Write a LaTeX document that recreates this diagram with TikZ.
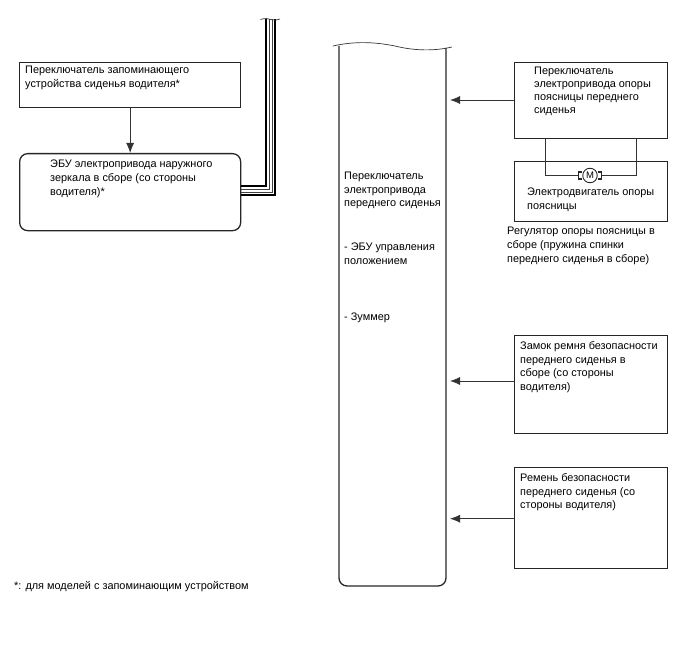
\documentclass[tikz,border=0pt]{standalone}
\usepackage{fontspec}
\setmainfont{Liberation Sans}
\usetikzlibrary{arrows.meta,calc}
\tikzset{
  boxnode/.style={draw=black!85, line width=1.3pt, minimum width=#1, inner sep=0pt, anchor=north west},
  lbl/.style={font=\fontsize{10.9}{13.9}\selectfont, anchor=north west, inner sep=0pt, align=left},
  link/.style={draw=black!80, line width=0.8pt},
  sig/.style={link, -{Latex[length=10pt,width=8pt]}},
  thickwire/.style={line width=2pt, black},
  thinwire/.style={line width=0.7pt, black!75},
}
\begin{document}
\begin{tikzpicture}[x=1pt, y=-1pt]
  \useasboundingbox (0,0) rectangle (688,658);

  % left column
  \node[boxnode=221pt, minimum height=45pt] (memsw) at (19,62) {};
  \node[boxnode=221pt, minimum height=77pt, rounded corners=8pt] (mirror) at (19,153) {};
  \node[lbl] (memswt) at (25,66)
    {Переключатель запоминающего\\устройства сиденья водителя*};
  \node[lbl] (mirrort) at (50,159.5)
    {ЭБУ электропривода наружного\\зеркала в сборе (со стороны\\водителя)*};
  \draw[sig] (memsw) -- (mirror);

  % wiring harness going up
  \coordinate (wa) at (mirror.east |- 0,185.7);
  \coordinate (wb) at (mirror.east |- 0,189.5);
  \coordinate (wc) at (mirror.east |- 0,192.3);
  \coordinate (wd) at (mirror.east |- 0,195.3);
  \draw[thickwire] (wa) -| (265.7,19);
  \draw[thinwire] (wb) -| (269.5,19);
  \draw[thinwire] (wc) -| (272,19);
  \draw[thickwire] (wd) -| (275,19);
  \draw[line width=0.7pt, black!80] (260.5,19.5) .. controls (265,18) and (268,18.5) .. (271,19.5)
    .. controls (274,20.5) and (277,20.5) .. (280,19);

  % tall unit with the broken top edge
  \draw[draw=black!85, line width=1.3pt, rounded corners=8pt] (339,46) -- (339,586) -- (446,586) -- (446,48);
  \draw[line width=0.7pt, black!80] (333,46) .. controls (355,41) and (375,42) .. (395,46)
    .. controls (415,51) and (435,51) .. (452,47);
  \coordinate (sigA) at (450,100);
  \coordinate (sigB) at (450,381);
  \coordinate (sigC) at (450,518.7);
  \node[lbl] (maint) at (344,171.5)
    {Переключатель\\электропривода\\переднего сиденья};
  \node[lbl] (ecut) at (344,242.5) {- ЭБУ управления\\положением};
  \node[lbl] (buzt) at (344,313) {- Зуммер};

  % right column
  \node[boxnode=153pt, minimum height=76pt] (lumbsw) at (514,62) {};
  \node[boxnode=153pt, minimum height=60pt] (lumbmot) at (514,161) {};
  \node[boxnode=153pt, minimum height=98pt] (buckle) at (514,335) {};
  \node[boxnode=153pt, minimum height=101pt] (belt) at (514,467) {};
  \node[lbl, font=\fontsize{10.9}{13.2}\selectfont] (lumbswt) at (534,66.5)
    {Переключатель\\электропривода опоры\\поясницы переднего\\сиденья};
  \node[lbl] (lumbmott) at (527,188) {Электродвигатель опоры\\поясницы};
  \node[lbl] (adjt) at (507,227)
    {Регулятор опоры поясницы в\\сборе (пружина спинки\\переднего сиденья в сборе)};
  \node[lbl] (bucklet) at (520,341)
    {Замок ремня безопасности\\переднего сиденья в\\сборе (со стороны\\водителя)};
  \node[lbl] (beltt) at (520,473)
    {Ремень безопасности\\переднего сиденья (со\\стороны водителя)};

  % arrows into the tall unit
  \draw[sig] (lumbsw.west |- sigA) -- (sigA);
  \draw[sig] (buckle.west |- sigB) -- (sigB);
  \draw[sig] (belt.west |- sigC) -- (sigC);

  % motor and its leads
  \node[circle, draw=black!85, line width=0.9pt, minimum size=14.5pt, inner sep=0pt,
    font=\fontsize{9.5}{9.5}\selectfont] (motor) at (590,175.5) {M};
  \draw[link] (lumbsw.south -| 545,0) |- ($(motor.west)+(-4,0)$);
  \draw[link] (lumbsw.south -| 636,0) |- ($(motor.east)+(4,0)$);
  \draw[line width=1.2pt, black!85] ($(motor.west)+(0,-3.5)$) -- ++(-4,0) -- ++(0,7) -- ++(4,0);
  \draw[line width=1.2pt, black!85] ($(motor.east)+(0,-3.5)$) -- ++(4,0) -- ++(0,7) -- ++(-4,0);

  % footnote
  \node[lbl] (note) at (14,581.5) {*: для моделей с запоминающим устройством};
\end{tikzpicture}
\end{document}
